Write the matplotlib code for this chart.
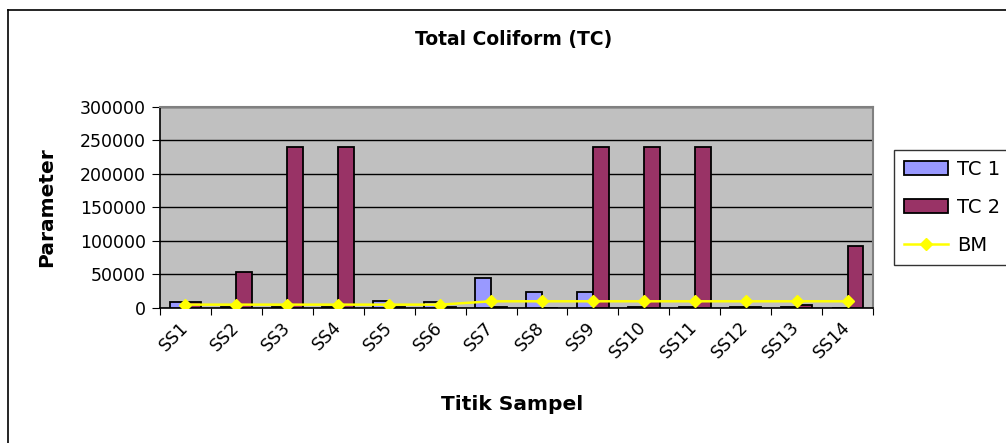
import numpy as np
import matplotlib.pyplot as plt
from matplotlib.lines import Line2D
from matplotlib.patches import Patch

plt.rcParams['font.family'] = ['DejaVu Sans']

sites = ["SS1", "SS2", "SS3", "SS4", "SS5", "SS6", "SS7",
         "SS8", "SS9", "SS10", "SS11", "SS12", "SS13", "SS14"]
tc1 = [9000, 1500, 800, 1500, 11000, 9000, 45000,
       24000, 24000, 1500, 1500, 1500, 1500, 0]
tc2 = [9000, 53000, 240000, 240000, 1500, 1500, 1500,
       0, 240000, 240000, 240000, 1500, 4600, 93000]
bm = [5000, 5000, 5000, 5000, 5000, 5000, 10000,
      10000, 10000, 10000, 10000, 10000, 10000, 10000]
yticks = [0, 50000, 100000, 150000, 200000, 250000, 300000]

W, H = 1006, 443
fig = plt.figure(figsize=(W / 100, H / 100), dpi=100)
ax = fig.add_axes([160 / W, 1 - 308 / H, (873 - 160) / W, (308 - 106.5) / H])

x = np.arange(len(sites))
bw = 0.31
ax.set_facecolor('#C0C0C0')
ax.bar(x - bw / 2, tc1, bw, color='#9999FF', edgecolor='black', linewidth=1.3, zorder=3)
ax.bar(x + bw / 2, tc2, bw, color='#993366', edgecolor='black', linewidth=1.3, zorder=3)
ax.plot(x, bm, color='#FFFF00', marker='D', markersize=6, linewidth=1.8, zorder=4)

ax.set_xlim(-0.5, len(sites) - 0.5)
ax.set_ylim(0, 300000)
ax.set_yticks(yticks)
ax.set_yticklabels([str(v) for v in yticks], fontsize=12.5)
ax.yaxis.grid(True, color='black', linewidth=1)
ax.set_axisbelow(True)

ax.set_xticks(np.arange(len(sites) + 1) - 0.5)
ax.set_xticklabels([])
ax.set_xticks(x, minor=True)
ax.set_xticklabels(sites, minor=True, rotation=45, ha='right', va='center',
                   rotation_mode='anchor', fontsize=12.5)
ax.tick_params(axis='x', which='minor', length=0, pad=12)
ax.tick_params(axis='x', which='major', length=5, direction='out')
ax.tick_params(axis='y', length=6, direction='out', pad=4)

for s in ['top', 'right']:
    ax.spines[s].set_color('#808080')
    ax.spines[s].set_linewidth(1.5)
for s in ['left', 'bottom']:
    ax.spines[s].set_color('black')
    ax.spines[s].set_linewidth(1.2)

fig.text(514 / W, 1 - 40 / H, "Total Coliform (TC)", ha='center', va='center',
         fontsize=13.5, fontweight='bold')
fig.text(47 / W, 1 - 207 / H, "Parameter", ha='center', va='center', rotation=90,
         fontsize=14.5, fontweight='bold')
fig.text(512 / W, 1 - 404 / H, "Titik Sampel", ha='center', va='center',
         fontsize=14.5, fontweight='bold')

handles = [Patch(facecolor='#9999FF', edgecolor='black', linewidth=1.3),
           Patch(facecolor='#993366', edgecolor='black', linewidth=1.3),
           Line2D([], [], color='#FFFF00', marker='D', markersize=6, linewidth=1.8)]
leg = fig.legend(handles, ["TC 1", "TC 2", "BM"], loc='upper left',
                 bbox_to_anchor=(894 / W, 1 - 150 / H), borderaxespad=0,
                 fontsize=14, frameon=True, fancybox=False, edgecolor='black',
                 borderpad=0.5, labelspacing=0.98, handlelength=2.3,
                 handleheight=0.7, handletextpad=0.45)
leg.get_frame().set_linewidth(1)

# outer chart border (clipped on right/bottom in the reference)
fig.add_artist(Line2D([8 / W, 1], [1 - 10 / H, 1 - 10 / H], color='black', linewidth=1.2))
fig.add_artist(Line2D([8 / W, 8 / W], [0, 1 - 10 / H], color='black', linewidth=1.2))

fig.savefig('out.png', dpi=100)
